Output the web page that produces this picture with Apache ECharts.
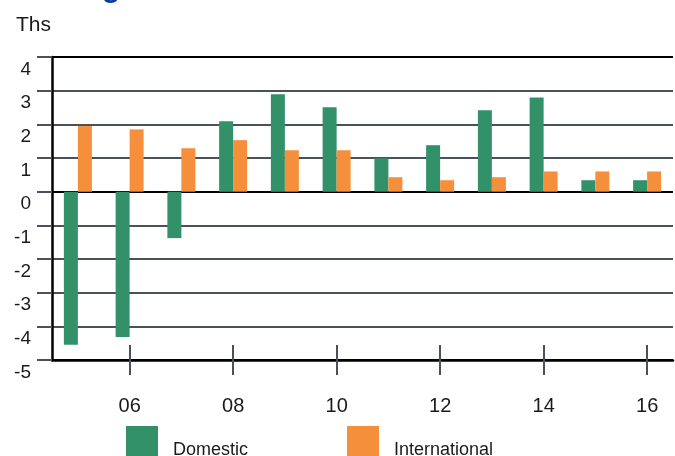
<!DOCTYPE html>
<html>
<head>
<meta charset="utf-8">
<script src="https://cdn.jsdelivr.net/npm/echarts@6/dist/echarts.min.js"></script>
<style>
  html, body { margin: 0; padding: 0; background: #fff; }
  #chart { width: 675px; height: 456px; }
</style>
</head>
<body>
<div id="chart"></div>
<script>
// years 2005..2016, shown as two-digit labels
const categories = ["05", "06", "07", "08", "09", "10", "11", "12", "13", "14", "15", "16"];
const domestic = [-4.55, -4.32, -1.38, 2.09, 2.89, 2.51, 0.99, 1.38, 2.42, 2.8, 0.34, 0.34];
const international = [1.95, 1.85, 1.29, 1.53, 1.23, 1.23, 0.43, 0.34, 0.43, 0.6, 0.6, 0.6];

const GRID_GREY = "#4b5156";
const FONT = "Liberation Sans, Arial, sans-serif";

// only every other year gets a tick + label (06, 08, ...)
const everyOther = (index) => index % 2 === 1;

const chart = echarts.init(document.getElementById("chart"));

const option = {
  animation: false,
  title: [
    {
      text: "Net Migration",
      left: 7,
      top: -31,
      textStyle: { color: "#0a3ca0", fontSize: 30, fontWeight: "bold", fontFamily: FONT },
    },
    {
      text: "Ths",
      left: 11,
      top: 10,
      textStyle: { color: "#1a1a1a", fontSize: 21, fontWeight: "normal", fontFamily: FONT },
    },
  ],
  legend: {
    left: 126,
    top: 426,
    padding: 0,
    itemWidth: 32,
    itemHeight: 32,
    itemGap: 99,
    icon: "rect",
    formatter: "{a|{name}}",
    textStyle: {
      color: "#1a1a1a",
      fontSize: 18,
      fontFamily: FONT,
      rich: {
        a: {
          color: "#1a1a1a",
          fontSize: 18,
          fontFamily: FONT,
          padding: [16, 0, 0, 10],
        },
      },
    },
    data: ["Domestic", "International"],
  },
  grid: {
    left: 52,
    right: 2,
    top: 57,
    bottom: 96,
  },
  xAxis: [
    {
      type: "category",
      data: categories,
      position: "bottom",
      axisLine: { onZero: false, lineStyle: { color: "#000", width: 2.5 } },
      axisTick: {
        show: true,
        alignWithLabel: true,
        length: 15,
        lineStyle: { color: GRID_GREY, width: 2 },
      },
      axisLabel: {
        interval: everyOther,
        margin: 36,
        color: "#1a1a1a",
        fontSize: 20,
        fontFamily: FONT,
      },
    },
    {
      // second copy only to draw the upper half of the ticks
      type: "category",
      data: categories,
      position: "bottom",
      axisLine: { show: false, onZero: false },
      axisTick: {
        show: true,
        inside: true,
        alignWithLabel: true,
        length: 15,
        lineStyle: { color: GRID_GREY, width: 2 },
      },
      axisLabel: { interval: everyOther, color: "rgba(0,0,0,0)" },
    },
  ],
  yAxis: {
    type: "value",
    min: -5,
    max: 4,
    interval: 1,
    axisLine: { show: true, lineStyle: { color: "#000", width: 2.5 } },
    axisTick: { show: true, length: 15, lineStyle: { color: GRID_GREY, width: 2 } },
    axisLabel: {
      margin: 21,
      verticalAlign: "top",
      padding: [3, 0, 0, 0],
      color: "#1a1a1a",
      fontSize: 19,
      fontFamily: FONT,
    },
    splitLine: {
      show: true,
      lineStyle: {
        width: 2,
        color: ["#000", GRID_GREY, GRID_GREY, GRID_GREY, GRID_GREY, "#000", GRID_GREY, GRID_GREY, GRID_GREY, "#000"],
      },
    },
  },
  series: [
    {
      name: "Domestic",
      type: "bar",
      data: domestic,
      barWidth: 14,
      barGap: "0%",
      itemStyle: { color: "#33916a" },
    },
    {
      name: "International",
      type: "bar",
      data: international,
      barWidth: 14,
      barGap: "0%",
      itemStyle: { color: "#f58f3c" },
    },
  ],
};

chart.setOption(option);
</script>
</body>
</html>
